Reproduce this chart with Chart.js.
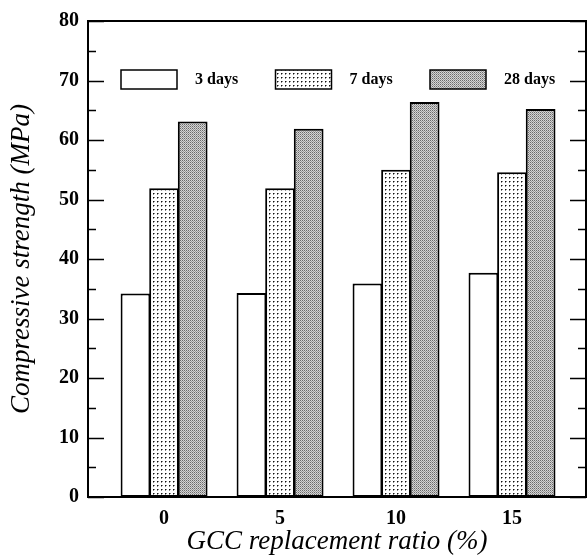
<!DOCTYPE html>
<html>
<head>
<meta charset="utf-8">
<script src="https://cdn.jsdelivr.net/npm/chart.js@4.4.0/dist/chart.umd.min.js"></script>
<style>
  html, body { margin: 0; padding: 0; background: #fff; }
  #wrap { width: 587px; height: 558px; }
</style>
</head>
<body>
<div id="wrap"><canvas id="chart"></canvas></div>
<script>
// dados
const ratios = [0, 5, 10, 15];
const seriesNames = ['3 days', '7 days', '28 days'];
const strength3d = [34.2, 34.3, 35.9, 37.7];
const strength7d = [51.9, 51.9, 55.0, 54.6];
const strength28d = [63.1, 61.9, 66.4, 65.2];
const yTicks = [0, 10, 20, 30, 40, 50, 60, 70, 80];

const serif = '"Liberation Serif", "DejaVu Serif", serif';

// textura pontilhada (7 dias)
function dotPattern() {
    const c = document.createElement('canvas');
    c.width = 4; c.height = 4;
    const g = c.getContext('2d');
    g.fillStyle = '#fff';
    g.fillRect(0, 0, 4, 4);
    g.fillStyle = '#111';
    g.fillRect(1, 1, 1, 1);
    g.fillStyle = '#888';
    g.fillRect(2, 1, 1, 1);
    g.fillRect(1, 2, 1, 1);
    return g.createPattern(c, 'repeat');
}

// textura cinza densa (28 dias)
function densePattern() {
    const c = document.createElement('canvas');
    c.width = 2; c.height = 2;
    const g = c.getContext('2d');
    g.fillStyle = '#d4d4d4';
    g.fillRect(0, 0, 2, 2);
    g.fillStyle = '#6a6a6a';
    g.fillRect(0, 0, 1, 1);
    g.fillStyle = '#999';
    g.fillRect(1, 1, 1, 1);
    return g.createPattern(c, 'repeat');
}

const fills = ['#ffffff', dotPattern(), densePattern()];
const values = [strength3d, strength7d, strength28d];

// ticks internos, moldura e legenda dentro da área
const framePlugin = {
    id: 'frame',
    afterDraw(chart) {
        const ctx = chart.ctx;
        const a = chart.chartArea;
        const y = chart.scales.y;
        ctx.save();
        ctx.strokeStyle = '#000';
        ctx.lineWidth = 2;
        ctx.beginPath();
        ctx.moveTo(a.left, a.top);
        ctx.lineTo(a.right, a.top);
        ctx.lineTo(a.right, a.bottom);
        ctx.stroke();

        ctx.lineWidth = 1.5;
        for (let v = 0; v <= 80; v += 5) {
            const py = Math.round(y.getPixelForValue(v)) + 0.5;
            const len = v % 10 === 0 ? 16 : 8;
            ctx.beginPath();
            ctx.moveTo(a.left, py);
            ctx.lineTo(a.left + len, py);
            ctx.moveTo(a.right, py);
            ctx.lineTo(a.right - len, py);
            ctx.stroke();
        }

        // legenda
        ctx.font = 'bold 16px ' + serif;
        ctx.textBaseline = 'middle';
        seriesNames.forEach((name, i) => {
            const bx = a.left + 33 + i * 154.5;
            const by = a.top + 49;
            ctx.fillStyle = fills[i];
            ctx.fillRect(bx, by, 56, 19);
            ctx.lineWidth = 1.5;
            ctx.strokeRect(bx, by, 56, 19);
            ctx.fillStyle = '#000';
            ctx.fillText(name, bx + 74, by + 10);
        });
        ctx.restore();
    }
};

new Chart(document.getElementById('chart'), {
    type: 'bar',
    data: {
        datasets: seriesNames.map((name, i) => ({
            label: name,
            data: ratios.map((r, k) => ({ x: r, y: values[i][k] })),
            backgroundColor: fills[i],
            borderColor: '#000',
            borderWidth: 2,
            borderSkipped: false,
            barPercentage: 1.04,
            categoryPercentage: 0.74
        }))
    },
    options: {
        responsive: true,
        maintainAspectRatio: false,
        animation: false,
        layout: { padding: { top: 15, right: 1, left: 0, bottom: 0 } },
        plugins: { legend: { display: false }, tooltip: { enabled: false } },
        scales: {
            x: {
                type: 'linear',
                offset: false,
                min: -3.28,
                max: 18.19,
                afterBuildTicks: s => { s.ticks = ratios.map(v => ({ value: v })); },
                afterFit: s => { s.height = 61; },
                grid: { display: false, drawTicks: false, offset: false },
                border: { display: true, color: '#000', width: 2 },
                ticks: { color: '#000', padding: 10, font: { family: serif, size: 20, weight: 'bold' } },
                title: {
                    display: true,
                    text: 'GCC replacement ratio (%)',
                    color: '#000',
                    padding: { top: 0, bottom: 0 },
                    font: { family: serif, size: 27, style: 'italic' }
                }
            },
            y: {
                min: 0,
                max: 80,
                afterBuildTicks: s => { s.ticks = yTicks.map(v => ({ value: v })); },
                afterFit: s => { s.width = 88; },
                grid: { display: false, drawTicks: false },
                border: { display: true, color: '#000', width: 2 },
                ticks: { color: '#000', padding: 9, font: { family: serif, size: 20, weight: 'bold' } },
                title: {
                    display: true,
                    text: 'Compressive strength (MPa)',
                    color: '#000',
                    padding: { top: 6, bottom: 0 },
                    font: { family: serif, size: 27, style: 'italic' }
                }
            }
        }
    },
    plugins: [framePlugin]
});
</script>
</body>
</html>
